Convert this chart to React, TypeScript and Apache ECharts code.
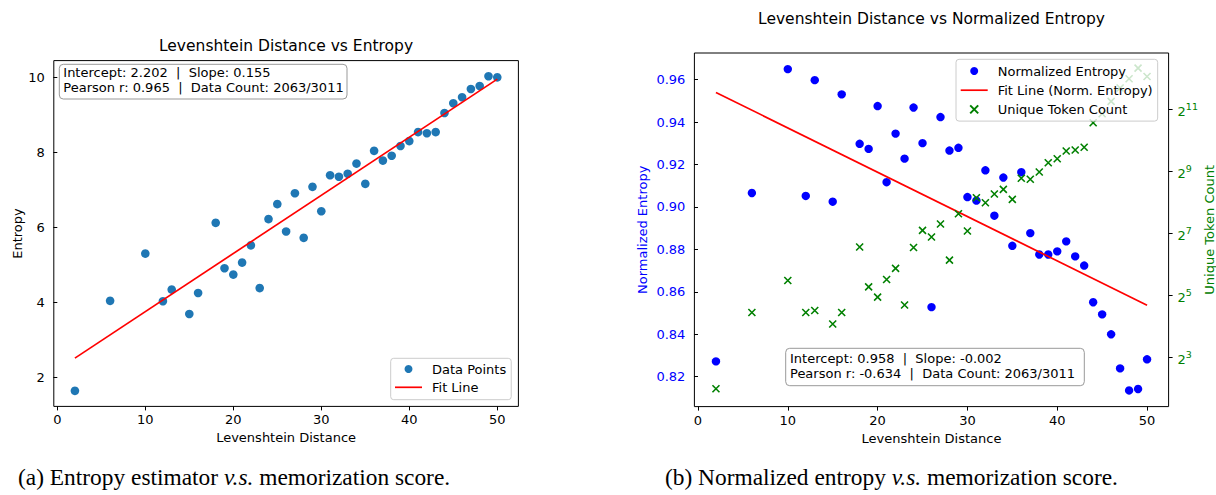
import React, { useEffect, useRef } from "react";
import * as echarts from "echarts";

// ---- data ----
const distances = [2, 6, 10, 12, 13, 15, 16, 18, 19, 20, 21, 22, 23, 24, 25, 26, 27, 28, 29, 30, 31, 32, 33, 34, 35, 36, 37, 38, 39, 40, 41, 42, 43, 44, 45, 46, 47, 48, 49, 50];
const entropy = [1.64, 4.04, 5.30, 4.03, 4.34, 3.69, 4.25, 6.12, 4.91, 4.74, 5.06, 5.52, 4.38, 6.22, 6.62, 5.89, 6.91, 5.72, 7.08, 6.43, 7.39, 7.35, 7.43, 7.70, 7.16, 8.04, 7.78, 7.91, 8.17, 8.30, 8.54, 8.51, 8.54, 9.05, 9.31, 9.47, 9.69, 9.77, 10.03, 10.0];
const normEntropy = [0.8272, 0.9066, 0.965, 0.9052, 0.9598, 0.9025, 0.9531, 0.9298, 0.9274, 0.9476, 0.9117, 0.9346, 0.9228, 0.9469, 0.9301, 0.8528, 0.9424, 0.9266, 0.9279, 0.9047, 0.903, 0.9173, 0.8959, 0.9139, 0.8817, 0.9164, 0.8877, 0.8776, 0.8776, 0.8791, 0.8838, 0.8767, 0.8724, 0.8551, 0.8494, 0.84, 0.8239, 0.8135, 0.8142, 0.8282];
const uniqueTokens = [4, 22, 45, 22, 23, 17, 22, 95, 39, 31, 46, 59, 26, 94, 138, 119, 159, 71, 200, 136, 286, 256, 311, 345, 276, 442, 432, 509, 626, 684, 813, 832, 884, 1531, 1872, 2469, 3327, 4096, 5183, 4299];
const fitX = [2, 50];
const entropyFit = [2.512, 9.952];
const normFit = [0.954, 0.8537];
const xTicks = [0, 10, 20, 30, 40, 50];
const entropyTicks = [2, 4, 6, 8, 10];
const normTicks = [0.82, 0.84, 0.86, 0.88, 0.9, 0.92, 0.94, 0.96];
const tokenTicks = [8, 32, 128, 512, 2048];
const statsA = ["Intercept: 2.202  |  Slope: 0.155", "Pearson r: 0.965  |  Data Count: 2063/3011"];
const statsB = ["Intercept: 0.958  |  Slope: -0.002", "Pearson r: -0.634  |  Data Count: 2063/3011"];

const FONT = '"DejaVu Sans", sans-serif';
const SERIF = '"Liberation Serif", "DejaVu Serif", serif';
const XMARK = "path://M0,0L10,10M10,0L0,10";
const LINEICON = "path://M0,0L27,0L27,1.7L0,1.7Z";

function zip(a: number[], b: number[]) {
  return a.map((v, i) => [v, b[i]]);
}

export default function App() {
  const ref = useRef<HTMLDivElement>(null);
  useEffect(() => {
    if (!ref.current) return;
    const chart = echarts.init(ref.current, null, { renderer: "svg" });
    const tickStyle = { show: true, length: 4, lineStyle: { color: "#000", width: 1 } };
    const lbl = (color: string, extra: any = {}) => ({ color, fontSize: 13, fontFamily: FONT, ...extra });
    const nameStyle = (color: string) => ({ color, fontSize: 13, fontFamily: FONT });
    const xAxisBase = (gi: number) => ({
      gridIndex: gi,
      type: "value",
      min: -0.4,
      max: 52.4,
      axisLine: { show: false },
      splitLine: { show: false },
      axisTick: { ...tickStyle, customValues: xTicks },
      axisLabel: lbl("#000", { customValues: xTicks, margin: 7 }),
      name: "Levenshtein Distance",
      nameLocation: "middle",
      nameGap: 25,
      nameTextStyle: nameStyle("#000"),
    });
    const legendCommon = {
      orient: "vertical",
      itemWidth: 27,
      itemHeight: 8,
      backgroundColor: "rgba(255,255,255,0.8)",
      borderColor: "#cccccc",
      borderWidth: 1,
      borderRadius: 3,
      selectedMode: false,
      z: 20,
      textStyle: { fontSize: 13, fontFamily: FONT, color: "#000", padding: [0, 0, 0, 5] },
    };
    const caption = (x: number, text: string) => ({
      type: "text",
      x,
      y: 477,
      style: {
        text,
        font: `23.4px ${SERIF}`,
        fill: "#000",
        verticalAlign: "middle",
        rich: { i: { fontStyle: "italic", fontSize: 23.4, fontFamily: SERIF } },
      },
    });
    const option: any = {
      animation: false,
      backgroundColor: "#fff",
      title: [
        { text: "Levenshtein Distance vs Entropy", left: 286, top: 38, textAlign: "center", padding: 0, textStyle: { fontSize: 15.5, fontWeight: "normal", fontFamily: FONT, color: "#000" } },
        { text: "Levenshtein Distance vs Normalized Entropy", left: 931.5, top: 11, textAlign: "center", padding: 0, textStyle: { fontSize: 15.5, fontWeight: "normal", fontFamily: FONT, color: "#000" } },
      ],
      grid: [
        { left: 53.8, top: 60.6, width: 464.6, height: 345.8, show: true, borderColor: "#000", borderWidth: 1, backgroundColor: "transparent", containLabel: false, outerBoundsMode: "none" },
        { left: 694.4, top: 53, width: 474.2, height: 353.6, show: true, borderColor: "#000", borderWidth: 1, backgroundColor: "transparent", containLabel: false, outerBoundsMode: "none" },
      ],
      xAxis: [xAxisBase(0), xAxisBase(1)],
      yAxis: [
        {
          gridIndex: 0,
          type: "value",
          min: 1.225,
          max: 10.446,
          axisLine: { show: false },
          splitLine: { show: false },
          axisTick: { ...tickStyle, customValues: entropyTicks },
          axisLabel: lbl("#000", { customValues: entropyTicks, margin: 9 }),
          name: "Entropy",
          nameLocation: "middle",
          nameRotate: 90,
          nameGap: 29,
          nameTextStyle: nameStyle("#000"),
        },
        {
          gridIndex: 1,
          type: "value",
          min: 0.8059,
          max: 0.9726,
          axisLine: { show: false },
          splitLine: { show: false },
          axisTick: { ...tickStyle, customValues: normTicks },
          axisLabel: lbl("#0000ff", { customValues: normTicks, margin: 9, formatter: (v: number) => v.toFixed(2) }),
          name: "Normalized Entropy",
          nameLocation: "middle",
          nameRotate: 90,
          nameGap: 45,
          nameTextStyle: nameStyle("#0000ff"),
        },
        {
          gridIndex: 1,
          type: "log",
          logBase: 2,
          position: "right",
          min: 2.681,
          max: 7276,
          axisLine: { show: false },
          splitLine: { show: false },
          minorTick: { show: false },
          axisTick: { ...tickStyle, customValues: tokenTicks },
          axisLabel: lbl("#008000", {
            customValues: tokenTicks,
            margin: 9,
            formatter: (v: number) => "{b|2}{s|" + Math.round(Math.log2(v)) + "}",
            rich: {
              b: { fontSize: 13, fontFamily: FONT, color: "#008000", lineHeight: 17, verticalAlign: "bottom" },
              s: { fontSize: 9.5, fontFamily: FONT, color: "#008000", lineHeight: 9, verticalAlign: "top" },
            },
          }),
          name: "Unique Token Count",
          nameLocation: "middle",
          nameRotate: 90,
          nameGap: 34,
          nameTextStyle: nameStyle("#008000"),
        },
      ],
      legend: [
        {
          ...legendCommon,
          data: [{ name: "Data Points", icon: "circle" }, { name: "Fit Line", icon: LINEICON }],
          left: 390.7,
          top: 358.3,
          itemGap: 5.3,
          padding: [4.2, 5, 5.9, 4.3],
        },
        {
          ...legendCommon,
          data: [{ name: "Normalized Entropy", icon: "circle" }, { name: "Fit Line (Norm. Entropy)", icon: LINEICON }, { name: "Unique Token Count", icon: XMARK }],
          left: 956,
          top: 59.3,
          itemGap: 6.2,
          padding: [5.2, 5, 5.2, 4.7],
        },
      ],
      series: [
        {
          name: "Data Points",
          type: "scatter",
          xAxisIndex: 0,
          yAxisIndex: 0,
          data: zip(distances, entropy),
          symbol: "circle",
          symbolSize: 8.6,
          itemStyle: { color: "#1f77b4", opacity: 1 },
          z: 2,
        },
        {
          name: "Fit Line",
          type: "line",
          xAxisIndex: 0,
          yAxisIndex: 0,
          data: zip(fitX, entropyFit),
          symbol: "none",
          lineStyle: { color: "#ff0000", width: 1.7 },
          itemStyle: { color: "#ff0000" },
          z: 3,
        },
        {
          name: "Normalized Entropy",
          type: "scatter",
          xAxisIndex: 1,
          yAxisIndex: 1,
          data: zip(distances, normEntropy),
          symbol: "circle",
          symbolSize: 8.4,
          itemStyle: { color: "#0000ff", opacity: 1 },
          z: 2,
        },
        {
          name: "Fit Line (Norm. Entropy)",
          type: "line",
          xAxisIndex: 1,
          yAxisIndex: 1,
          data: zip(fitX, normFit),
          symbol: "none",
          lineStyle: { color: "#ff0000", width: 1.7 },
          itemStyle: { color: "#ff0000" },
          z: 3,
        },
        {
          name: "Unique Token Count",
          type: "scatter",
          xAxisIndex: 1,
          yAxisIndex: 2,
          data: zip(distances, uniqueTokens),
          symbol: XMARK,
          symbolSize: 7,
          itemStyle: { color: "rgba(0,0,0,0)", borderColor: "#008000", borderWidth: 1.6, opacity: 1 },
          z: 4,
        },
      ],
      graphic: [
        { type: "rect", z: 30, shape: { x: 59.3, y: 64.3, width: 287.7, height: 34.7, r: 4 }, style: { fill: "rgba(255,255,255,0.8)", stroke: "#999", lineWidth: 1 } },
        { type: "text", z: 31, x: 63.3, y: 65.2, style: { text: statsA.join("\n"), font: `13px ${FONT}`, fill: "#000", lineHeight: 15 } },
        { type: "rect", z: 30, shape: { x: 785.7, y: 348.3, width: 298.6, height: 37.4, r: 4 }, style: { fill: "rgba(255,255,255,0.8)", stroke: "#999", lineWidth: 1 } },
        { type: "text", z: 31, x: 790, y: 350.8, style: { text: statsB.join("\n"), font: `13px ${FONT}`, fill: "#000", lineHeight: 15 } },
        caption(18, "(a) Entropy estimator {i|v.s.} memorization score."),
        caption(665, "(b) Normalized entropy {i|v.s.} memorization score."),
      ],
    };
    chart.setOption(option);
    return () => chart.dispose();
  }, []);
  return <div ref={ref} style={{ position: "absolute", left: 0, top: 0, width: 1216, height: 495 }} />;
}
